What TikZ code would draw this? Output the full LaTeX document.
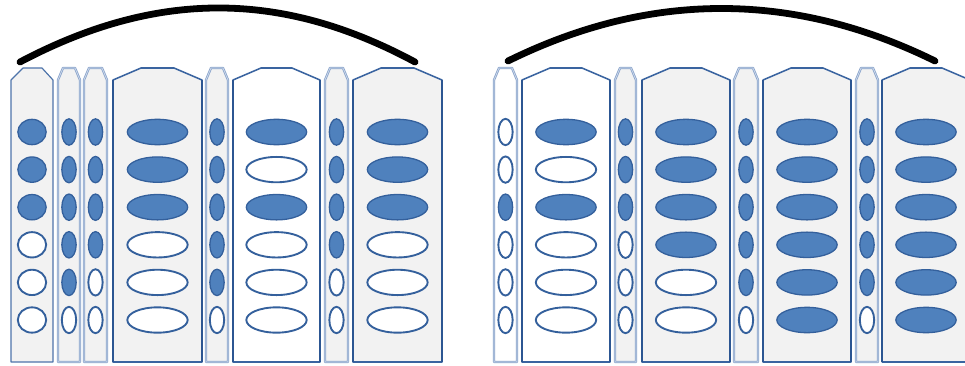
\documentclass[tikz,border=0pt]{standalone}
\usetikzlibrary{shapes.geometric}
\definecolor{stripclr}{RGB}{242,242,242}
\definecolor{edgeclr} {RGB}{44,86,146}
\definecolor{topclr}  {RGB}{58,100,160}
\definecolor{thinclr} {RGB}{138,164,204}
\definecolor{cellclr} {RGB}{79,129,189}
\definecolor{celledge}{RGB}{52,96,156}

\begin{document}
\begin{tikzpicture}[
    x=0.3mm, y=-0.3mm,
    widebox/.style ={draw=topclr, line width=1.3pt, line join=round},
    sideline/.style={draw=edgeclr, line width=2.2pt},
    slimbox/.style ={draw=thinclr, line width=0.7pt, double=white!60!thinclr,
                     double distance=0.6pt, line join=round},
    roundbox/.style={draw=topclr!90, line width=1pt, line join=round},
    cell/.style    ={ellipse, inner sep=0pt, draw=celledge, line width=1.1pt},
    c1/.style      ={cell, fill=cellclr},
    c0/.style      ={cell, fill=white, line width=1.6pt},
    bigcell/.style ={minimum width=18.1mm, minimum height=7.6mm},
    midcell/.style ={minimum width=8.5mm, minimum height=7.6mm},
    thincell/.style={minimum width=4.3mm, minimum height=7.9mm},
    bracket/.style ={line width=5.8pt, line cap=round},
]
\useasboundingbox (0,0) rectangle (965,365);

% =============== Wide strips ===============
\foreach \xl/\xr/\bg/\pat [count=\s] in {113/202/stripclr/{1,1,1,0,0,0},
    233/320/white/{1,0,1,0,0,0}, 353/442/stripclr/{1,1,1,0,0,0},
    522/610/white/{1,0,1,0,0,0}, 642/730/stripclr/{1,1,1,1,0,0},
    763/851/stripclr/{1,1,1,1,1,1}, 882/970/stripclr/{1,1,1,1,1,1}}{%
  \draw[widebox, fill=\bg] (\xl,362) -- (\xl,80) -- ({\xl+28},68)
      -- ({\xr-28},68) -- (\xr,80) -- (\xr,362) -- cycle;
  \draw[sideline] (\xl,362) -- (\xl,80) (\xr,80) -- (\xr,362);
  \foreach \v [count=\r] in \pat
    \node[c\v, bigcell] (wide\s-\r) at ({(\xl+\xr)/2},{132+(\r-1)*37.6}) {};
}

% =============== Narrow strips ===============
\foreach \xl/\xr/\bg/\pat [count=\s] in {58/80/stripclr/{1,1,1,1,1,0},
    84/107/stripclr/{1,1,1,1,0,0}, 206/228/stripclr/{1,1,1,1,1,0},
    325/348/stripclr/{1,1,1,1,0,0}, 494/517/white/{0,0,1,0,0,0},
    615/636/stripclr/{1,1,1,0,0,0}, 734/758/stripclr/{1,1,1,1,1,0},
    856/878/stripclr/{1,1,1,1,1,0}}{%
  \draw[slimbox, fill=\bg] (\xl,362) -- (\xl,80) -- ({\xl+5},68)
      -- ({\xr-5},68) -- (\xr,80) -- (\xr,362) -- cycle;
  \foreach \v [count=\r] in \pat
    \node[c\v, thincell] (thin\s-\r) at ({(\xl+\xr)/2},{132+(\r-1)*37.6}) {};
}

% =============== Strip with round cells ===============
\draw[roundbox, fill=stripclr] (11,362) -- (11,80) -- (23,68) -- (42,68)
    -- (53,80) -- (53,362) -- cycle;
\foreach \v [count=\r] in {1,1,1,0,0,0}
  \node[c\v, midcell] (mid-\r) at (32,{132+(\r-1)*37.6}) {};

% =============== Brackets ===============
\draw[bracket] (20,62) .. controls (160,-12) and (285,-8) .. (415,62);
\draw[bracket] (508,61) .. controls (650,-9) and (793,-9) .. (935,61);

\end{tikzpicture}
\end{document}
